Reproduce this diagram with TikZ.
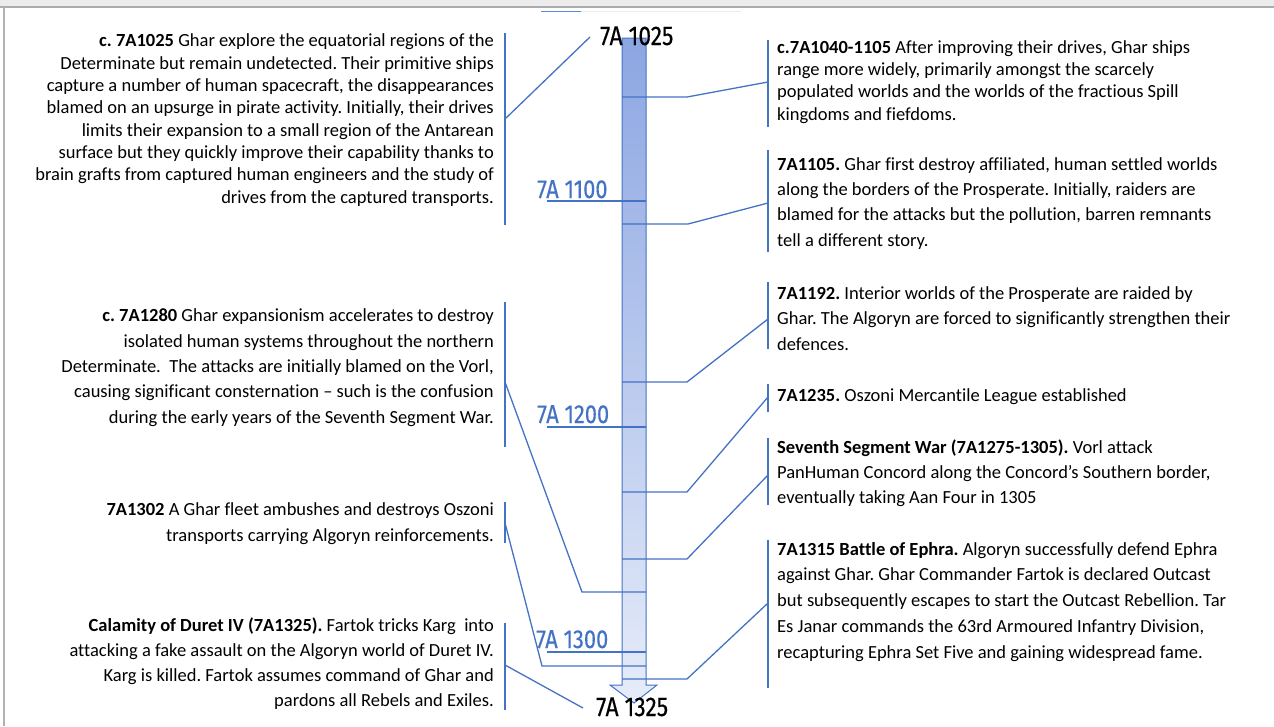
\documentclass[tikz,border=0pt]{standalone}
\usepackage{fontspec}
\setmainfont[Ligatures=NoCommon]{Carlito}
\newfontfamily\datefont[FakeStretch=0.84,FakeBold=0.4]{Fira Sans}
\definecolor{tlblue}{RGB}{68,114,196}
\definecolor{bartop}{RGB}{140,166,226}
\definecolor{barbot}{RGB}{230,236,249}
\frenchspacing
\begin{document}
\begin{tikzpicture}[x=1pt,y=-1pt,
  conn/.style={draw=tlblue, line width=1.3pt},
  evl/.style={font=\fontsize{18.5}{#1}\selectfont, inner sep=0pt, align=right, anchor=base east},
  evr/.style={font=\fontsize{18.5}{#1}\selectfont, inner sep=0pt, align=left, anchor=base west},
  datelab/.style={font=\datefont\fontsize{27}{27}\selectfont, inner sep=0pt, anchor=base west},
  bluedate/.style={datelab, font=\datefont\fontsize{26}{26}\selectfont, text=tlblue},
]
\useasboundingbox (0,0) rectangle (1274,726);
% window frame
\fill[gray!15] (0,0) rectangle (1274,6);
\draw[gray!65, line width=2.5pt] (0,7) -- (1274,7);
\draw[gray!60, line width=2.5pt] (4,7) -- (4,726);
\draw[cyan!50!blue!70, line width=1pt] (541,11) -- (581,11);
\draw[gray!15, line width=1pt] (581,11) -- (741,11);

% timeline bar with arrow head
\shade[top color=bartop, bottom color=barbot, draw=tlblue, line width=1pt]
  (622,38) -- (646,38) -- (646,685) -- (657,685) -- (634,703) -- (610,685) -- (622,685) -- cycle;

% date labels
\node[datelab] (d1025) at (600,45) {7A 1025};
\node[datelab] (d1325) at (596,716) {7A 1325};
\node[bluedate] (d1100) at (537,198) {7A 1100};
\node[bluedate] (d1200) at (537,423) {7A 1200};
\node[bluedate] (d1300) at (536,648) {7A 1300};
\draw[conn] (547,201) -- (646,201);
\draw[conn] (547,427) -- (646,427);
\draw[conn] (547,652) -- (646,652);

% left events (anchored at the baseline of their last line)
\node[evl=22.3] (l1) at (494,203) {\textbf{c. 7A1025} Ghar explore the equatorial regions of the\\
Determinate but remain undetected. Their primitive ships\\
capture a number of human spacecraft, the disappearances\\
blamed on an upsurge in pirate activity. Initially, their drives\\
limits their expansion to a small region of the Antarean\\
surface but they quickly improve their capability thanks to\\
brain grafts from captured human engineers and the study of\\
drives from the captured transports.};
\node[evl=25.3] (l2) at (494,423) {\textbf{c. 7A1280} Ghar expansionism accelerates to destroy\\
isolated human systems throughout the northern\\
Determinate.\ \ The attacks are initially blamed on the Vorl,\\
causing significant consternation – such is the confusion\\
during the early years of the Seventh Segment War.};
\node[evl=25.6] (l3) at (494,541) {\textbf{7A1302} A Ghar fleet ambushes and destroys Oszoni\\
transports carrying Algoryn reinforcements.};
\node[evl=25] (l4) at (494,706) {\textbf{Calamity of Duret IV (7A1325).} Fartok tricks Karg\ \ into\\
attacking a fake assault on the Algoryn world of Duret IV.\\
Karg is killed. Fartok assumes command of Ghar and\\
pardons all Rebels and Exiles.};

% right events
\node[evr=22.3] (r1) at (777,120) {\textbf{c.7A1040-1105} After improving their drives, Ghar ships\\
range more widely, primarily amongst the scarcely\\
populated worlds and the worlds of the fractious Spill\\
kingdoms and fiefdoms.};
\node[evr=25.3] (r2) at (777,246) {\textbf{7A1105.} Ghar first destroy affiliated, human settled worlds\\
along the borders of the Prosperate. Initially, raiders are\\
blamed for the attacks but the pollution, barren remnants\\
tell a different story.};
\node[evr=25.5] (r3) at (777,350) {\textbf{7A1192.} Interior worlds of the Prosperate are raided by\\
Ghar. The Algoryn are forced to significantly strengthen their\\
defences.};
\node[evr=25] (r4) at (777,401) {\textbf{7A1235.} Oszoni Mercantile League established};
\node[evr=25] (r5) at (777,503) {\textbf{Seventh Segment War (7A1275-1305).} Vorl attack\\
PanHuman Concord along the Concord’s Southern border,\\
eventually taking Aan Four in 1305};
\node[evr=25.7] (r6) at (777,658) {\textbf{7A1315 Battle of Ephra.} Algoryn successfully defend Ephra\\
against Ghar. Ghar Commander Fartok is declared Outcast\\
but subsequently escapes to start the Outcast Rebellion. Tar\\
Es Janar commands the 63rd Armoured Infantry Division,\\
recapturing Ephra Set Five and gaining widespread fame.};

% brackets
\draw[conn] (505,33) -- (505,225);
\draw[conn] (505,302) -- (505,447);
\draw[conn] (505,502) -- (505,543);
\draw[conn] (505,623) -- (505,710);
\draw[conn] (768,40) -- (768,127);
\draw[conn] (768,150) -- (768,252);
\draw[conn] (768,282) -- (768,349);
\draw[conn] (768,384) -- (768,412);
\draw[conn] (768,438) -- (768,505);
\draw[conn] (768,540) -- (768,688);

% bracket attach points
\coordinate (l1b) at (505,119);
\coordinate (l2b) at (505,382);
\coordinate (l3b) at (505,523);
\coordinate (l4b) at (505,665);
\coordinate (r1b) at (768,82);
\coordinate (r2b) at (768,203);
\coordinate (r3b) at (768,319);
\coordinate (r4b) at (768,397);
\coordinate (r5b) at (768,475);
\coordinate (r6b) at (768,603);

% left connectors
\draw[conn] (l1b) -- (590,37);
\draw[conn] (l2b) -- (582,592) -- (646,592);
\draw[conn] (l3b) -- (542,666) -- (646,666);
\draw[conn] (l4b) -- (583,708);

% right connectors
\draw[conn] (622,97) -- (687,97) -- (r1b);
\draw[conn] (622,224) -- (688,224) -- (r2b);
\draw[conn] (622,382) -- (687,382) -- (r3b);
\draw[conn] (622,492) -- (687,492) -- (r4b);
\draw[conn] (622,559) -- (687,559) -- (r5b);
\draw[conn] (622,679) -- (687,679) -- (r6b);
\end{tikzpicture}
\end{document}
